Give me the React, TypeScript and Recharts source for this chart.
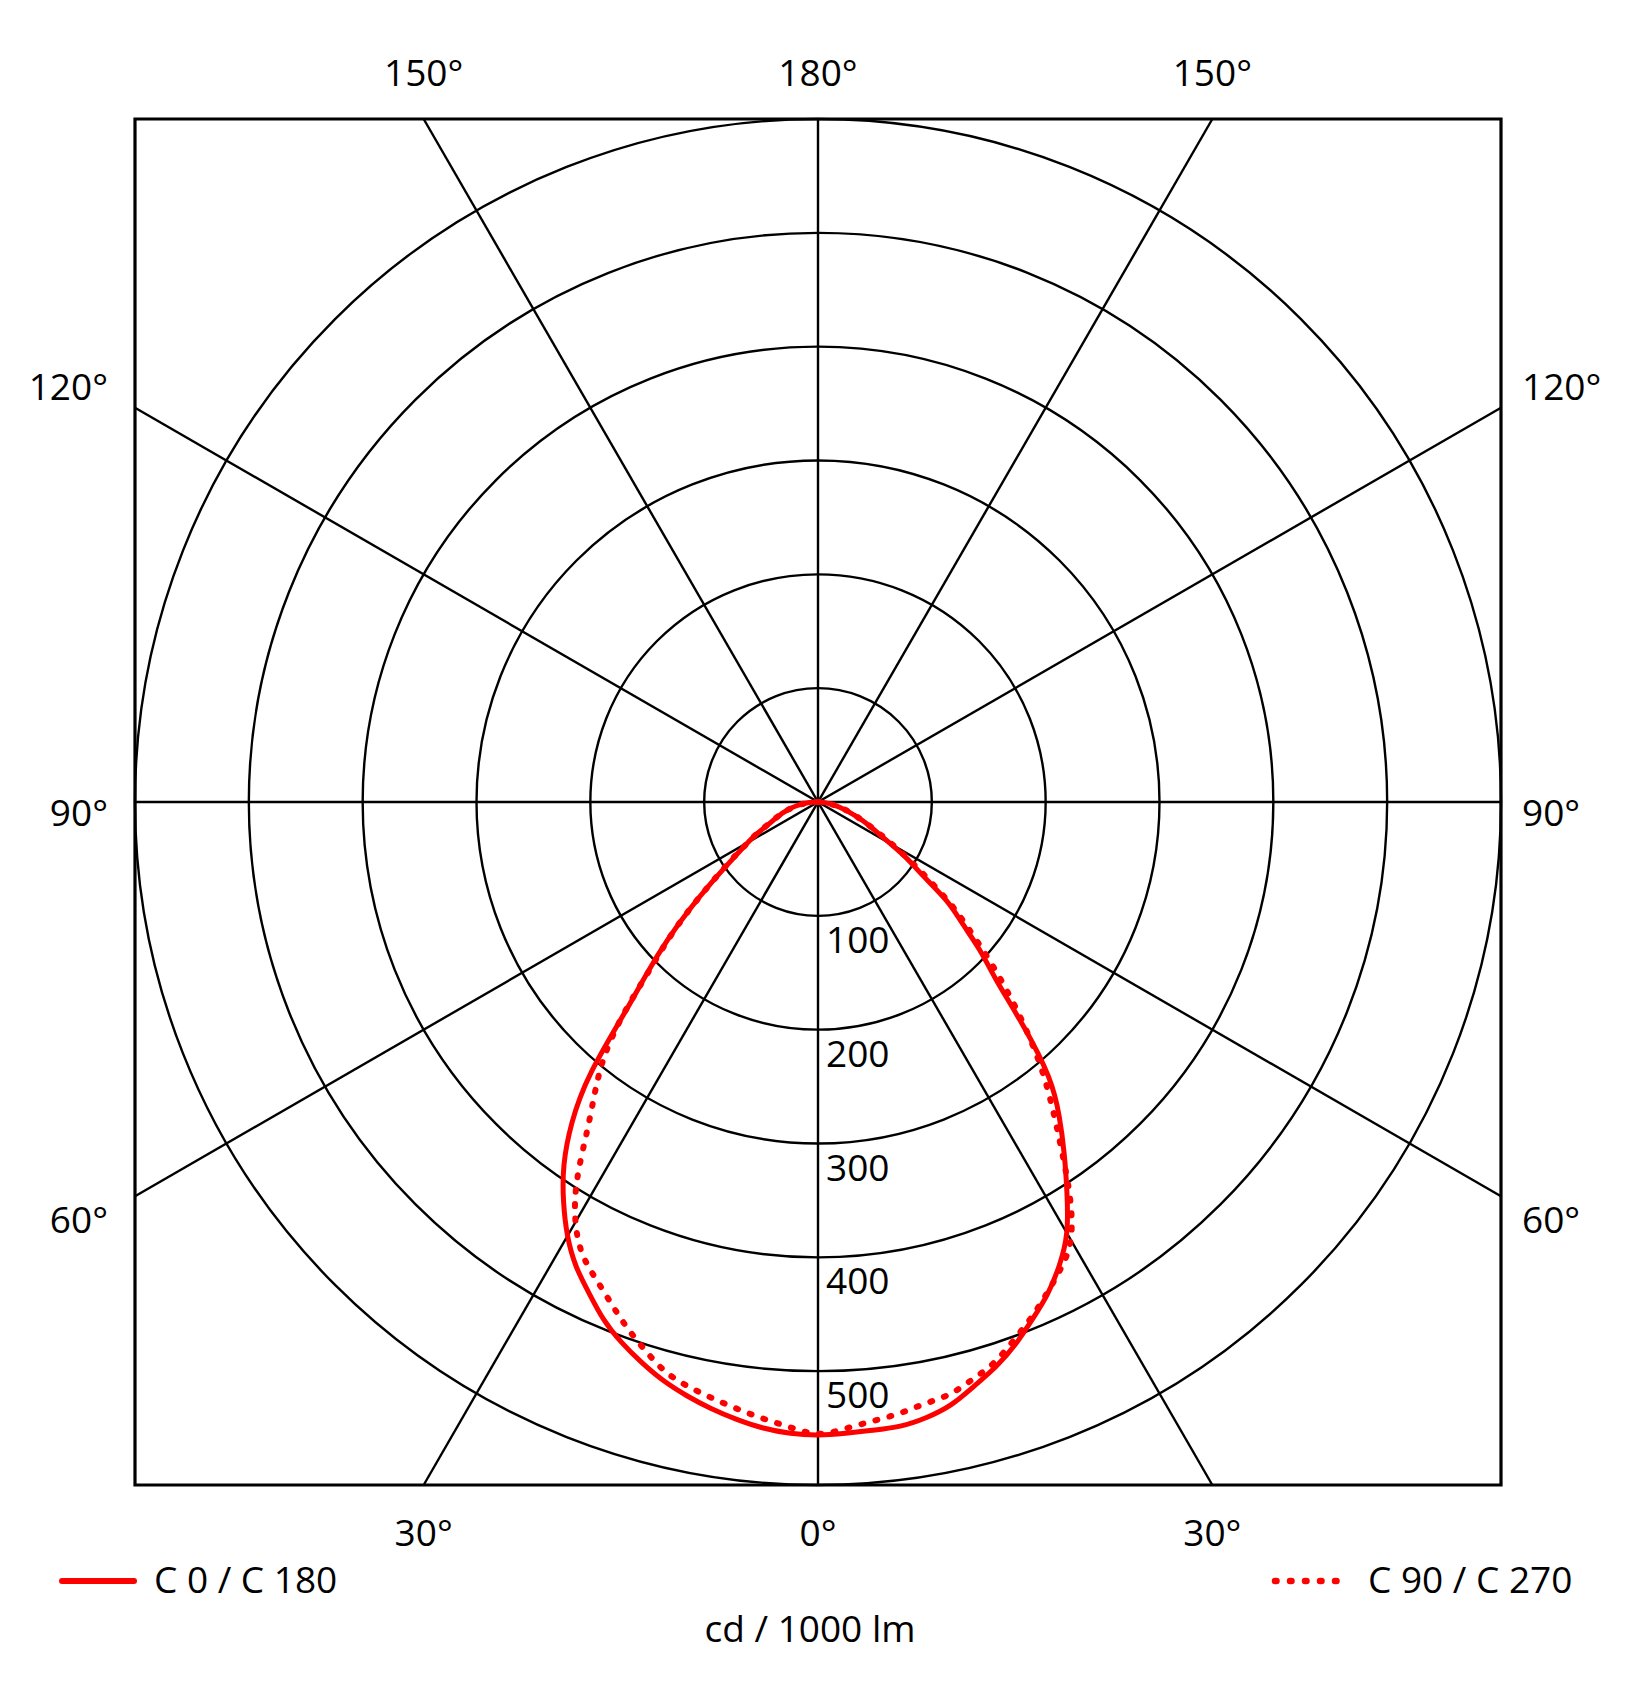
import React from 'react';
import {
  ScatterChart,
  Scatter,
  XAxis,
  YAxis,
  ReferenceLine,
  ReferenceDot,
  ReferenceArea,
} from 'recharts';

// ---------- data ----------
// gamma angles (degrees from nadir), shared by all half-planes
const ANGLES = [
  0, 2.5, 5, 7.5, 10, 12.5, 15, 17.5, 20, 22.5, 25, 27.5, 30, 32.5, 35, 37.5, 40, 42.5, 45,
  47.5, 50, 52.5, 55, 57.5, 60, 62.5, 65, 67.5, 70, 72.5, 75, 77.5, 80, 82.5, 85, 87.5, 90,
];
// cd / 1000 lm, solid curve, right half (C0)
const C0 = [
  555, 555, 554, 553, 549, 542, 531, 520, 507, 492, 477, 459, 437, 407, 377, 348, 315, 267, 222,
  193, 165, 142, 112, 93, 74, 60, 50, 42, 34, 28, 22, 17, 13, 9, 5, 2, 0,
];
// solid curve, left half (C180)
const C180 = [
  556, 555, 552, 547, 541, 534, 526, 516, 505, 492, 476, 460, 440, 416, 389, 355, 310, 252, 212,
  179, 148, 121, 99, 83, 71, 61, 50, 43, 37, 33, 28, 24, 19, 15, 10, 5, 0,
];
// dotted curve, right half (C90)
const C90 = [
  555, 551, 546, 542, 537, 533, 525, 516, 503, 490, 476, 462, 444, 412, 373, 338, 305, 270, 235,
  202, 172, 146, 118, 96, 77, 62, 51, 42, 35, 29, 23, 18, 13, 9, 5, 2, 0,
];
// dotted curve, left half (C270)
const C270 = [
  555, 550, 544, 538, 532, 526, 518, 505, 491, 476, 462, 448, 426, 394, 354, 322, 292, 253, 210,
  178, 148, 121, 100, 84, 71, 61, 51, 44, 38, 33, 28, 23, 18, 14, 9, 5, 0,
];

const RINGS = [100, 200, 300, 400, 500, 600];
const RING_LABELS = [100, 200, 300, 400, 500];
const SPOKES = [0, 30, 60, 90, 120, 150];
const TOP_LABELS = [-150, 180, 150];
const BOTTOM_LABELS = [-30, 0, 30];
const LEFT_LABELS = [-120, -90, -60];
const RIGHT_LABELS = [120, 90, 60];
const LEGEND_SOLID = 'C 0 / C 180';
const LEGEND_DOTTED = 'C 90 / C 270';
const UNIT_LABEL = 'cd / 1000 lm';

// ---------- layout ----------
const W = 1630;
const H = 1695;
const MARGIN = { top: 119, right: 129, bottom: 210, left: 135 };
const PLOT = W - MARGIN.left - MARGIN.right; // 1366
const MAX = 600;
const PX_PER_UNIT = PLOT / (2 * MAX);
const RED = '#ff0000';
const FONT = '"Open Sans", sans-serif';
const FS = 37;
const GRID_W = 2.4;

const rad = (d: number) => (d * Math.PI) / 180;

// point on the square frame along direction "angle" (0 = down, + = right)
const edgePoint = (angle: number) => {
  const s = Math.sin(rad(angle));
  const c = -Math.cos(rad(angle));
  const k = MAX / Math.max(Math.abs(s), Math.abs(c));
  return { x: s * k, y: c * k };
};

const toPoints = (left: number[], right: number[]) => {
  const pts: { x: number; y: number }[] = [];
  for (let i = ANGLES.length - 1; i >= 0; i--) {
    const a = rad(ANGLES[i]);
    pts.push({ x: -left[i] * Math.sin(a), y: -left[i] * Math.cos(a) });
  }
  for (let i = 1; i < ANGLES.length; i++) {
    const a = rad(ANGLES[i]);
    pts.push({ x: right[i] * Math.sin(a), y: -right[i] * Math.cos(a) });
  }
  return pts;
};

const solidPts = toPoints(C180, C0);
const dottedPts = toPoints(C270, C90);

const NoShape = () => <g />;

const sideLabelDy: Record<number, number> = { 120: -8, 90: 24, 60: 37 };

const textStyle = { fontFamily: FONT, fontSize: FS, fill: '#000' };

const labelShape = (text: string, dx: number, dy: number, anchor: 'start' | 'middle' | 'end') =>
  (p: any) => (
    <text x={p.cx + dx} y={p.cy + dy} textAnchor={anchor} style={textStyle}>
      {text}
    </text>
  );

export default function App() {
  return (
    <div style={{ position: 'absolute', left: 0, top: 0, width: W, height: H, background: '#fff' }}>
      <ScatterChart width={W} height={H} margin={MARGIN}>
        <XAxis type="number" dataKey="x" domain={[-MAX, MAX]} hide />
        <YAxis type="number" dataKey="y" domain={[-MAX, MAX]} hide />

        {RINGS.map((r) => (
          <ReferenceDot
            key={`ring-${r}`}
            x={0}
            y={0}
            r={r * PX_PER_UNIT}
            fill="none"
            stroke="#000"
            strokeWidth={GRID_W}
            ifOverflow="visible"
          />
        ))}

        {SPOKES.map((a) => {
          const e = edgePoint(a);
          return (
            <ReferenceLine
              key={`spoke-${a}`}
              segment={[
                { x: -e.x, y: -e.y },
                { x: e.x, y: e.y },
              ]}
              stroke="#000"
              strokeWidth={GRID_W}
              ifOverflow="visible"
            />
          );
        })}

        <ReferenceArea
          x1={-MAX}
          x2={MAX}
          y1={-MAX}
          y2={MAX}
          fill="none"
          fillOpacity={0}
          stroke="#000"
          strokeWidth={3.2}
          ifOverflow="visible"
        />

        {RING_LABELS.map((r) => (
          <ReferenceDot
            key={`rl-${r}`}
            x={0}
            y={-r}
            r={0}
            ifOverflow="visible"
            shape={labelShape(String(r), 8, 37, 'start')}
          />
        ))}

        {TOP_LABELS.map((a) => {
          const e = edgePoint(a);
          return (
            <ReferenceDot
              key={`tl-${a}`}
              x={e.x}
              y={e.y}
              r={0}
              ifOverflow="visible"
              shape={labelShape(`${Math.abs(a)}°`, 0, -33, 'middle')}
            />
          );
        })}
        {BOTTOM_LABELS.map((a) => {
          const e = edgePoint(a);
          return (
            <ReferenceDot
              key={`bl-${a}`}
              x={e.x}
              y={e.y}
              r={0}
              ifOverflow="visible"
              shape={labelShape(`${Math.abs(a)}°`, 0, 61, 'middle')}
            />
          );
        })}
        {LEFT_LABELS.map((a) => {
          const e = edgePoint(a);
          return (
            <ReferenceDot
              key={`ll-${a}`}
              x={e.x}
              y={e.y}
              r={0}
              ifOverflow="visible"
              shape={labelShape(`${Math.abs(a)}°`, -27, sideLabelDy[Math.abs(a)], 'end')}
            />
          );
        })}
        {RIGHT_LABELS.map((a) => {
          const e = edgePoint(a);
          return (
            <ReferenceDot
              key={`rl2-${a}`}
              x={e.x}
              y={e.y}
              r={0}
              ifOverflow="visible"
              shape={labelShape(`${Math.abs(a)}°`, 21, sideLabelDy[Math.abs(a)], 'start')}
            />
          );
        })}

        <Scatter
          name={LEGEND_DOTTED}
          data={dottedPts}
          fill={RED}
          shape={NoShape}
          line={{
            stroke: RED,
            strokeWidth: 6,
            strokeDasharray: '2 12.5',
            strokeLinecap: 'round',
            fill: 'none',
          }}
          lineType="joint"
          lineJointType="natural"
          isAnimationActive={false}
        />
        <Scatter
          name={LEGEND_SOLID}
          data={solidPts}
          fill={RED}
          shape={NoShape}
          line={{ stroke: RED, strokeWidth: 5, strokeLinejoin: 'round', fill: 'none' }}
          lineType="joint"
          lineJointType="natural"
          isAnimationActive={false}
        />
      </ScatterChart>

      <svg
        width={W}
        height={H}
        style={{ position: 'absolute', left: 0, top: 0, pointerEvents: 'none' }}
      >
        <line x1={62} y1={1581} x2={134} y2={1581} stroke={RED} strokeWidth={6} strokeLinecap="round" />
        <text x={154} y={1593} style={textStyle}>
          {LEGEND_SOLID}
        </text>
        <line
          x1={1275}
          y1={1581}
          x2={1337}
          y2={1581}
          stroke={RED}
          strokeWidth={6.5}
          strokeDasharray="1.5 13.5"
          strokeLinecap="round"
        />
        <text x={1368} y={1593} style={textStyle}>
          {LEGEND_DOTTED}
        </text>
        <text x={810} y={1642} textAnchor="middle" style={textStyle}>
          {UNIT_LABEL}
        </text>
      </svg>
    </div>
  );
}
